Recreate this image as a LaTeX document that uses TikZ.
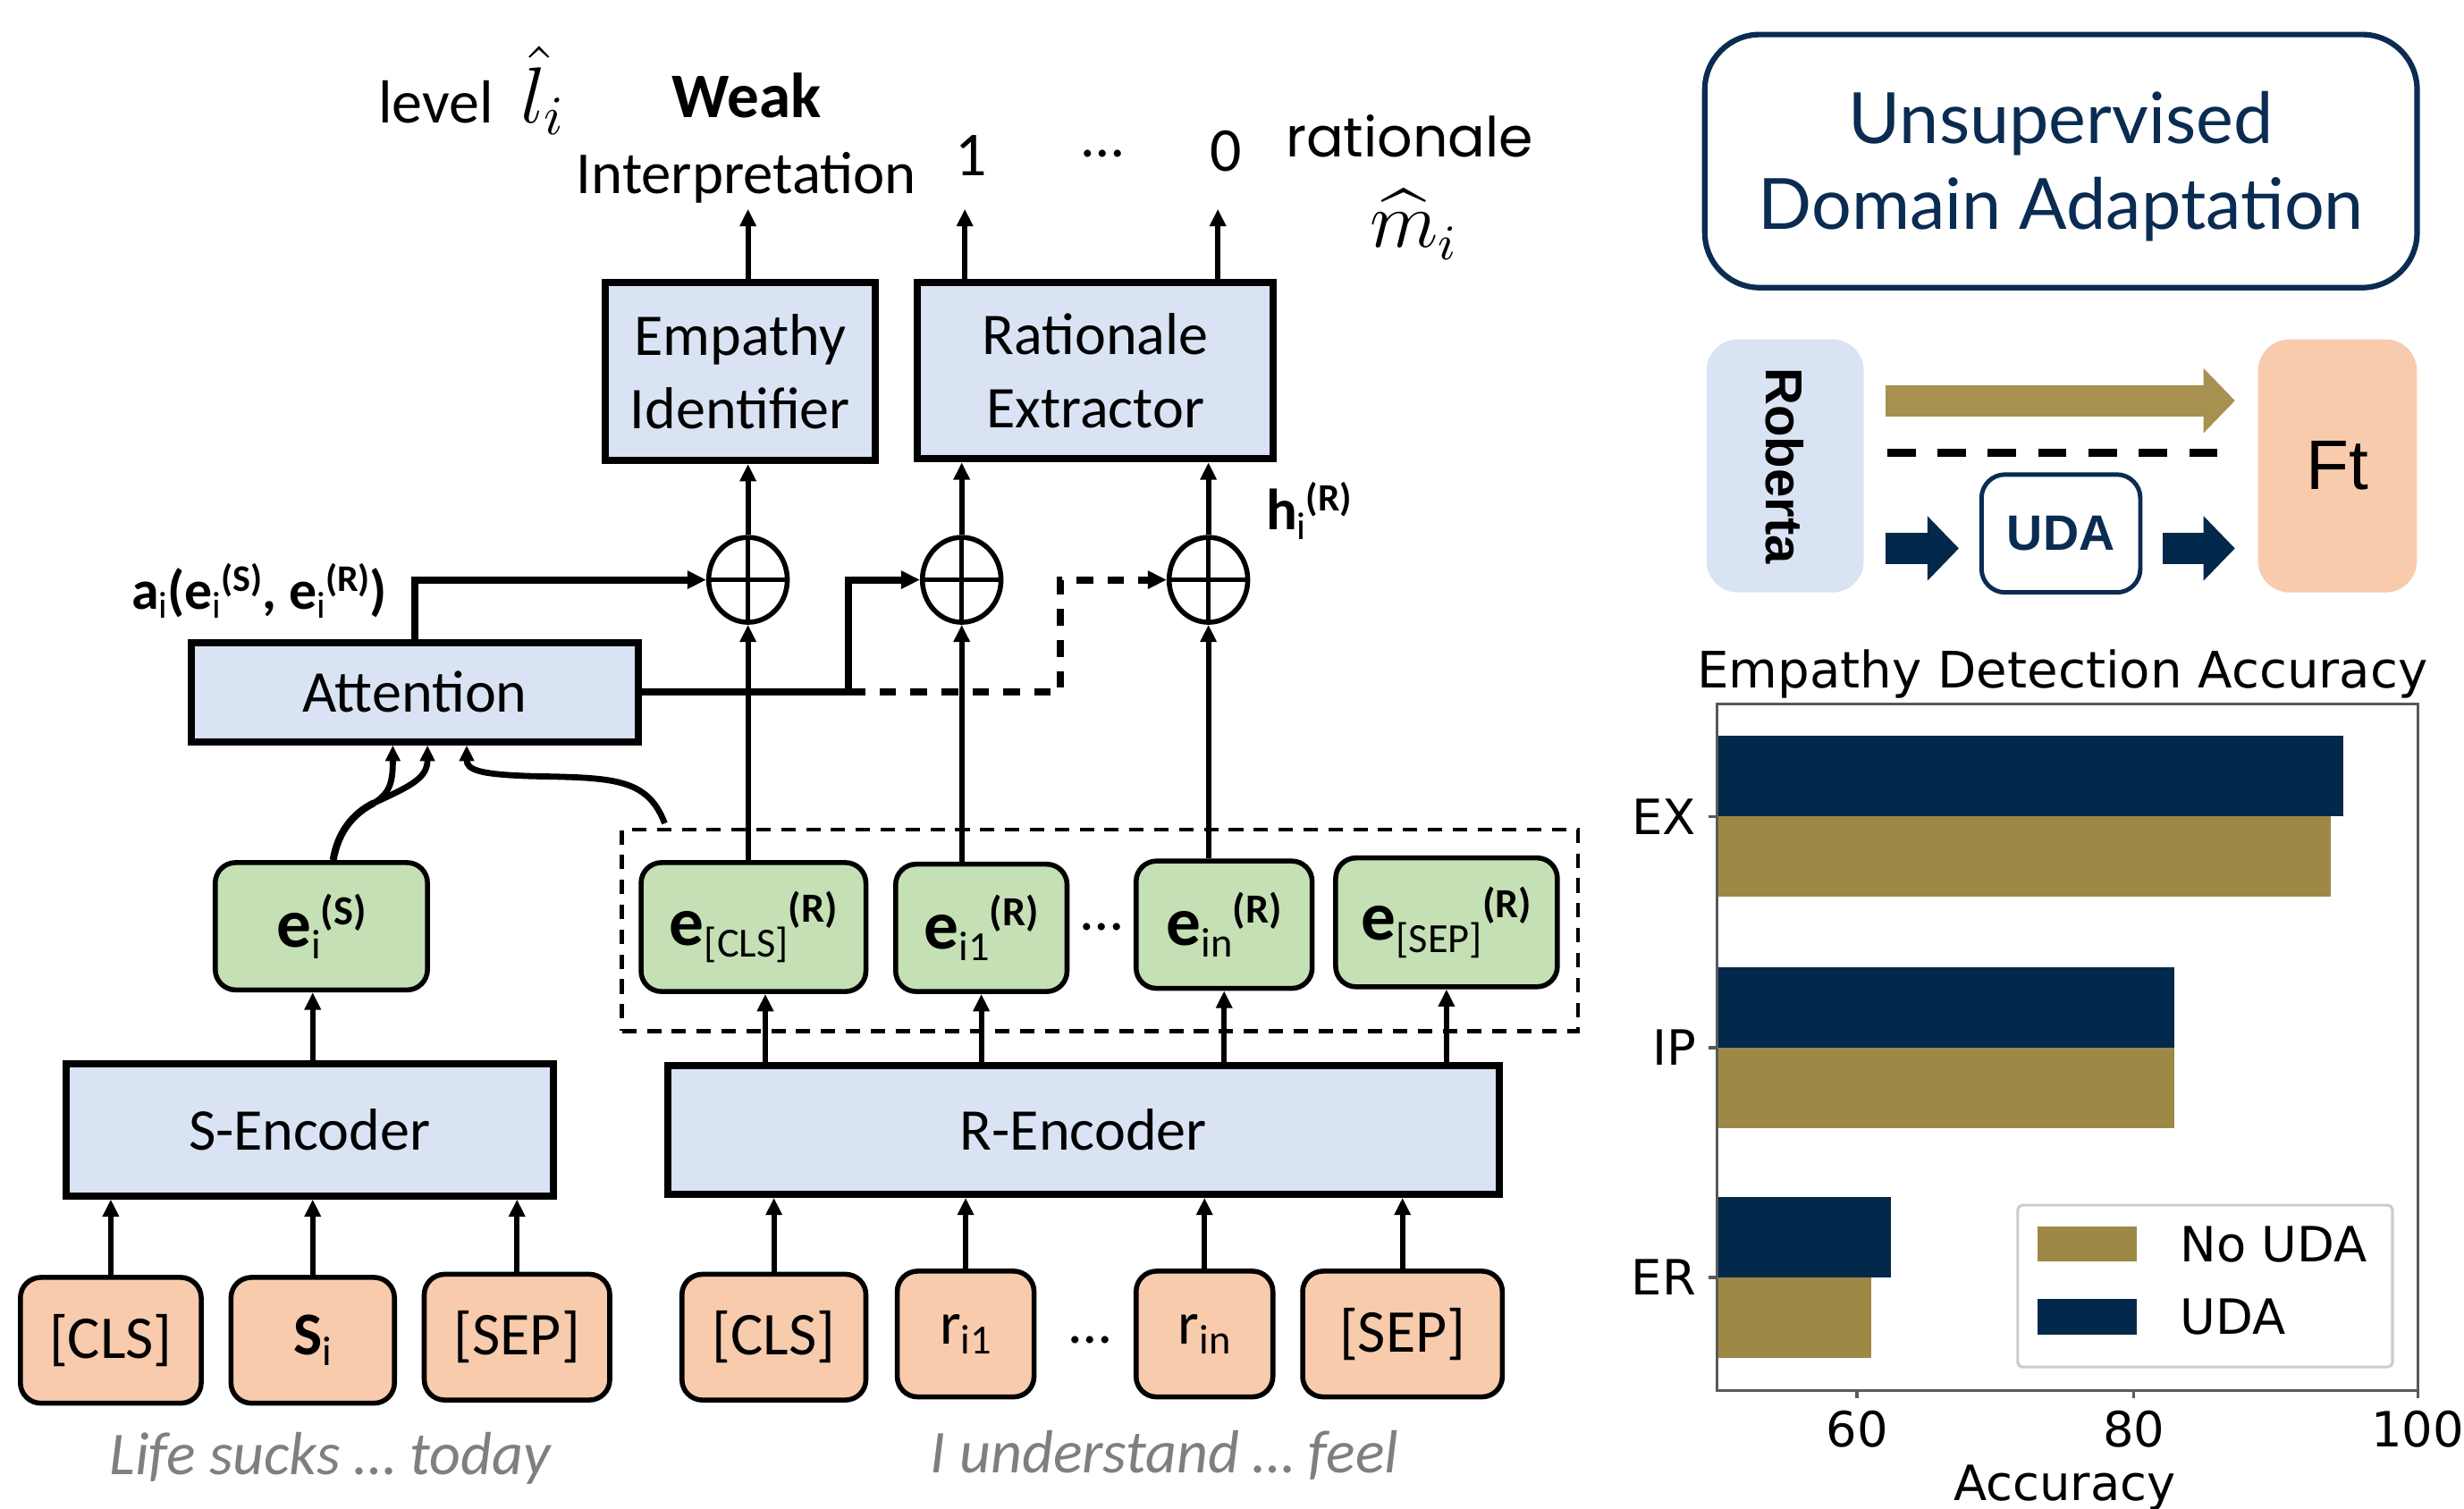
\documentclass[tikz,border=0pt]{standalone}
\usepackage{fontspec}
\usepackage{amsmath}
\usepackage{graphicx}
\setmainfont{Carlito}
\newfontfamily\latofont{Lato}
\newfontfamily\arialfont{Liberation Sans}
\newfontfamily\dejavufont{DejaVu Sans}
\newfontfamily\gothfont{Poppins}
\usetikzlibrary{arrows.meta,shapes.geometric,calc}
\definecolor{boxblue}{HTML}{DAE3F3}
\definecolor{boxgreen}{HTML}{C5E0B4}
\definecolor{boxorange}{HTML}{F8CBAD}
\definecolor{navy}{HTML}{0A2C52}
\definecolor{navyB}{HTML}{02284B}
\definecolor{goldA}{HTML}{A69150}
\definecolor{goldB}{HTML}{9D8846}
\definecolor{txtgray}{HTML}{7F7F7F}
\newcommand{\mysub}[2][7.5]{\raisebox{-0.17em}{\fontsize{#1}{8}\selectfont\mdseries #2}}
\newcommand{\mysup}[2][7.5]{\raisebox{0.33em}{\fontsize{#1}{8}\selectfont\bfseries #2}}
\begin{document}
\begin{tikzpicture}[x=0.01cm,y=-0.01cm,
  bluebox/.style={draw, line width=1.3pt, fill=boxblue, inner sep=0pt, align=center, font=\fontsize{10.7}{13.4}\selectfont},
  greenbox/.style={draw, line width=0.9pt, fill=boxgreen, rounded corners=0.13cm, inner sep=0pt, font=\fontsize{12.5}{14}\selectfont},
  orangebox/.style={draw, line width=0.9pt, fill=boxorange, rounded corners=0.13cm, inner sep=0pt, minimum height=0.8cm, font=\fontsize{11}{13}\selectfont},
  arr/.style={line width=1pt, -{Triangle[length=0.11cm,width=0.1cm]}},
  thickarr/.style={line width=1.3pt, -{Triangle[length=0.12cm,width=0.11cm]}},
  curvearr/.style={line width=1.1pt, -{Triangle[length=0.1cm,width=0.09cm]}},
  dashedarr/.style={line width=1.3pt, dash pattern=on 3pt off 2.6pt, -{Triangle[length=0.12cm,width=0.11cm]}},
  oplus/.style={draw, ellipse, line width=0.9pt, minimum width=0.5cm, minimum height=0.54cm, inner sep=0pt,
    path picture={\draw[line width=0.9pt] (path picture bounding box.north) -- (path picture bounding box.south)
      (path picture bounding box.west) -- (path picture bounding box.east);}},
  lbl/.style={inner sep=0pt, font=\fontsize{10.8}{13}\selectfont},
  bigarrow/.style={line width=0.2cm, -{Triangle[length=0.2cm,width=0.4cm]}},
  chtxt/.style={inner sep=0pt, font=\dejavufont\fontsize{8.8}{10}\selectfont},
]
\fill[white] (0,0) rectangle (1568,960);
\useasboundingbox (0,0) rectangle (1568,960);

% ---------- blue boxes
\node[bluebox, minimum width=1.72cm, minimum height=1.13cm] (emp) at (471,236.5) {Empathy\\Identifier};
\node[bluebox, minimum width=2.26cm, minimum height=1.12cm] (rat) at (697,236) {Rationale\\Extractor};
\node[bluebox, minimum width=2.84cm, minimum height=0.63cm] (att) at (264,440.5) {Attention};
\node[bluebox, minimum width=3.10cm, minimum height=0.84cm] (senc) at (197,719) {S-Encoder};
\node[bluebox, minimum width=5.29cm, minimum height=0.82cm] (renc) at (689.5,719) {R-Encoder};

% ---------- dashed group
\node[draw, line width=0.8pt, dash pattern=on 2.6pt off 1.9pt, minimum width=6.08cm, minimum height=1.28cm] (dbox) at (700,592) {};

% ---------- green boxes
\node[greenbox, minimum width=1.35cm, minimum height=0.81cm] (es) at (204.5,589.5) {\textbf{e}\mysub{i}\mysup{(S)}};
\node[greenbox, minimum width=1.43cm, minimum height=0.82cm] (ecls) at (479.5,590) {\textbf{e}\mysub{[CLS]}\mysup{(R)}};
\node[greenbox, minimum width=1.09cm, minimum height=0.81cm] (ei1) at (624.5,590.5) {\textbf{e}\mysub{i1}\mysup{(R)}};
\node[greenbox, minimum width=1.12cm, minimum height=0.81cm] (ein) at (779,588.5) {\textbf{e}\mysub{in}\mysup{(R)}};
\node[greenbox, minimum width=1.41cm, minimum height=0.82cm] (esep) at (920.5,587) {\textbf{e}\mysub{[SEP]}\mysup{(R)}};
\node[lbl] (gdots) at (701,590) {…};

% ---------- orange boxes
\node[orangebox, minimum width=1.15cm] (cls1) at (70.5,853) {[CLS]};
\node[orangebox, minimum width=1.04cm] (si) at (199,853) {\textbf{S}\mysub{i}};
\node[orangebox, minimum width=1.18cm] (sep1) at (329,851) {[SEP]};
\node[orangebox, minimum width=1.17cm] (cls2) at (492.5,851) {[CLS]};
\node[orangebox, minimum width=0.87cm] (ri1) at (614.5,849) {r\mysub{i1}};
\node[orangebox, minimum width=0.87cm] (rin) at (766.5,849) {r\mysub{in}};
\node[orangebox, minimum width=1.27cm] (sep2) at (892.5,849) {[SEP]};
\node[lbl] (odots) at (694,853) {…};

\node[lbl, font=\itshape\fontsize{11}{13}\selectfont, text=txtgray] (life) at (210,928) {Life sucks … today};
\node[lbl, font=\itshape\fontsize{11}{13}\selectfont, text=txtgray] (und) at (741,926) {I understand … feel};

% ---------- oplus
\node[oplus] (c1) at (476,369) {};
\node[oplus] (c2) at (612,369) {};
\node[oplus] (c3) at (769,369) {};

% ---------- top labels
\node[lbl, anchor=base west, font=\fontsize{11}{13}\selectfont] (lvl) at (240,78) {level\ \ {\fontsize{14}{16}\selectfont$\hat{l}_i$}};
\node[lbl, anchor=base, font=\bfseries\fontsize{11.5}{13}\selectfont] (weak) at (475,75) {Weak};
\node[lbl, anchor=base] (interp) at (475,123) {Interpretation};
\node[lbl, anchor=base, font=\fontsize{11.3}{13}\selectfont] (one) at (618,111.7) {1};
\node[lbl, anchor=base] (tdots) at (702,100) {…};
\node[lbl, anchor=base, font=\fontsize{11.3}{13}\selectfont] (zero) at (780,109) {0};
\node[lbl, anchor=base, font=\gothfont\fontsize{10}{12}\selectfont] (ratl) at (897,100) {rationale};
\node[lbl, font=\fontsize{13.5}{15}\selectfont] (mhat) at (900,143) {$\widehat{m}_i$};
\node[lbl, anchor=west, font=\fontsize{10}{12}\selectfont] (alab) at (83,376) {\textbf{a}\mysub[6.8]{i}\textbf{(e}\mysub[6.8]{i}\mysup[6.8]{(S)}\textbf{, e}\mysub[6.8]{i}\mysup[6.8]{(R)}\textbf{)}};
\node[lbl, anchor=west, font=\fontsize{10.5}{12}\selectfont] (hlab) at (805,325) {\textbf{h}\mysub[7]{i}\mysup[7]{(R)}};

% ---------- connectors: inputs to encoders
\foreach \n in {cls1,si,sep1} \draw[arr] (\n.north) -- (\n.north |- senc.south);
\foreach \n in {cls2,ri1,rin,sep2} \draw[arr] (\n.north) -- (\n.north |- renc.south);
% encoders to embeddings
\draw[arr] (si.north |- senc.north) -- (si.north |- es.south);
\coordinate (ecx) at ([xshift=0.075cm]ecls.south);
\draw[arr] (ecx |- renc.north) -- (ecx);
\foreach \n in {ei1,ein,esep} \draw[arr] (\n.south |- renc.north) -- (\n.south);
% embeddings to oplus
\draw[arr] (c1 |- ecls.north) -- (c1.south);
\draw[arr] (c2 |- ei1.north) -- (c2.south);
\draw[arr] (c3 |- ein.north) -- (c3.south);
% oplus to heads
\draw[arr] (c1.north) -- (c1 |- emp.south);
\draw[arr] (c2.north) -- (c2 |- rat.south);
\draw[arr] (c3.north) -- (c3 |- rat.south);
% outputs
\coordinate (o1) at (476,133);
\coordinate (o2) at (614,133);
\coordinate (o3) at (775,133);
\draw[arr] (o1 |- emp.north) -- (o1);
\draw[arr] (o2 |- rat.north) -- (o2);
\draw[arr] (o3 |- rat.north) -- (o3);
% attention outputs
\draw[thickarr] (att.north) |- (c1.west);
\coordinate (j1) at (540,440.5);
\coordinate (j2) at (675,440.5);
\draw[line width=1.3pt] (att.east) -- (j1);
\draw[thickarr] (j1) |- (c2.west);
\draw[dashedarr] (j1) -- (j2) |- (c3.west);
% attention inputs
\coordinate (esx) at ([xshift=0.075cm]es.north);
\coordinate (split) at (238,511);
\coordinate (t1) at ([xshift=-0.14cm]att.south);
\coordinate (t2) at ([xshift=0.08cm]att.south);
\coordinate (t3) at ([xshift=0.33cm]att.south);
\coordinate (dbs) at (423,524);
\draw[line width=1.3pt] (esx) .. controls (215,530) and (224,518) .. (split);
\draw[curvearr] (split) .. controls (248,505) and (250,498) .. (t1);
\draw[curvearr] (split) .. controls (262,500) and (272,495) .. (t2);
\draw[curvearr] (dbs) .. controls (412,495) and (390,495) .. (340,494) .. controls (305,493) and (297,490) .. (t3);

% ---------- right: UDA
\node[draw=navy, line width=1pt, rounded corners=0.35cm, minimum width=4.53cm, minimum height=1.61cm] (uda) at (1311.5,102.5) {};
\node[inner sep=0pt, align=center, text=navy, font=\latofont\fontsize{12.8}{15.5}\selectfont] (udat) at (1311.5,106) {Unsupervised\\Domain Adaptation};
\node[fill=boxblue, rounded corners=0.2cm, minimum width=1cm, minimum height=1.61cm] (rob) at (1136,296.5) {};
\node[rotate=-90, inner sep=0pt, font=\arialfont\bfseries\fontsize{9.4}{11}\selectfont] (robt) at (rob.center) {Roberta};
\node[fill=boxorange, rounded corners=0.2cm, minimum width=1.01cm, minimum height=1.61cm, font=\arialfont\fontsize{12.7}{14}\selectfont] (ft) at (1487.5,296.5) {Ft};
\node[draw=navy, line width=0.8pt, fill=white, rounded corners=0.15cm, minimum width=1.01cm, minimum height=0.75cm, text=navy, font=\arialfont\bfseries\fontsize{9}{11}\selectfont] (udas) at (1311.5,339.5) {UDA};
\draw[bigarrow, goldA, shorten <=0.13cm, shorten >=0.14cm] ([yshift=0.415cm]rob.east) -- ([yshift=0.415cm]ft.west);
\coordinate (dl) at (1201,288);
\coordinate (dr) at (1411,288);
\draw[line width=1.4pt, dash pattern=on 0.18cm off 0.14cm] (dl) -- (dr);
\coordinate (nl) at ([yshift=-0.095cm]udas.west);
\coordinate (nr) at ([yshift=-0.095cm]udas.east);
\draw[bigarrow, navyB, shorten <=0.13cm, shorten >=0.13cm] (rob.east |- nl) -- (nl);
\draw[bigarrow, navyB, shorten <=0.13cm, shorten >=0.14cm] (nr) -- (ft.west |- nr);

% ---------- chart
\node[chtxt, anchor=base, font=\dejavufont\fontsize{9.1}{10}\selectfont] (ctitle) at (1312.5,438) {Empathy Detection Accuracy};
\fill[navyB] (1092.5,468) rectangle (1491,519.6);
\fill[goldB] (1092.5,519.6) rectangle (1483,570.6);
\fill[navyB] (1092.5,615.6) rectangle (1383.6,666.8);
\fill[goldB] (1092.5,666.8) rectangle (1383.6,718);
\fill[navyB] (1092.5,761.8) rectangle (1203.4,813);
\fill[goldB] (1092.5,813) rectangle (1190.8,864);
\draw[black!65, line width=0.5pt] (1092.5,448) rectangle (1538.5,885);
\foreach \y/\t in {519.6/EX,666.8/IP,813/ER} {
  \draw[black!65, line width=0.5pt] (1087,\y) -- (1092.5,\y);
  \node[chtxt, anchor=east] at (1080,\y) {\t};
}
\foreach \x/\t in {1181.7/60,1358/80,1538.5/100} {
  \draw[black!65, line width=0.5pt] (\x,885) -- (\x,890);
  \node[chtxt, anchor=north] at (\x,897) {\t};
}
\node[chtxt, anchor=base] (xlab) at (1314,955) {Accuracy};
\draw[black!20, fill=white, line width=0.5pt, rounded corners=0.03cm] (1284,767) rectangle (1522.5,870);
\fill[goldB] (1296.6,780.6) rectangle (1360,803);
\fill[navyB] (1296.6,826.6) rectangle (1360,849.5);
\node[chtxt, anchor=west] (lg1) at (1386.6,791.8) {No UDA};
\node[chtxt, anchor=west] (lg2) at (1386.6,838) {UDA};
\end{tikzpicture}
\end{document}
